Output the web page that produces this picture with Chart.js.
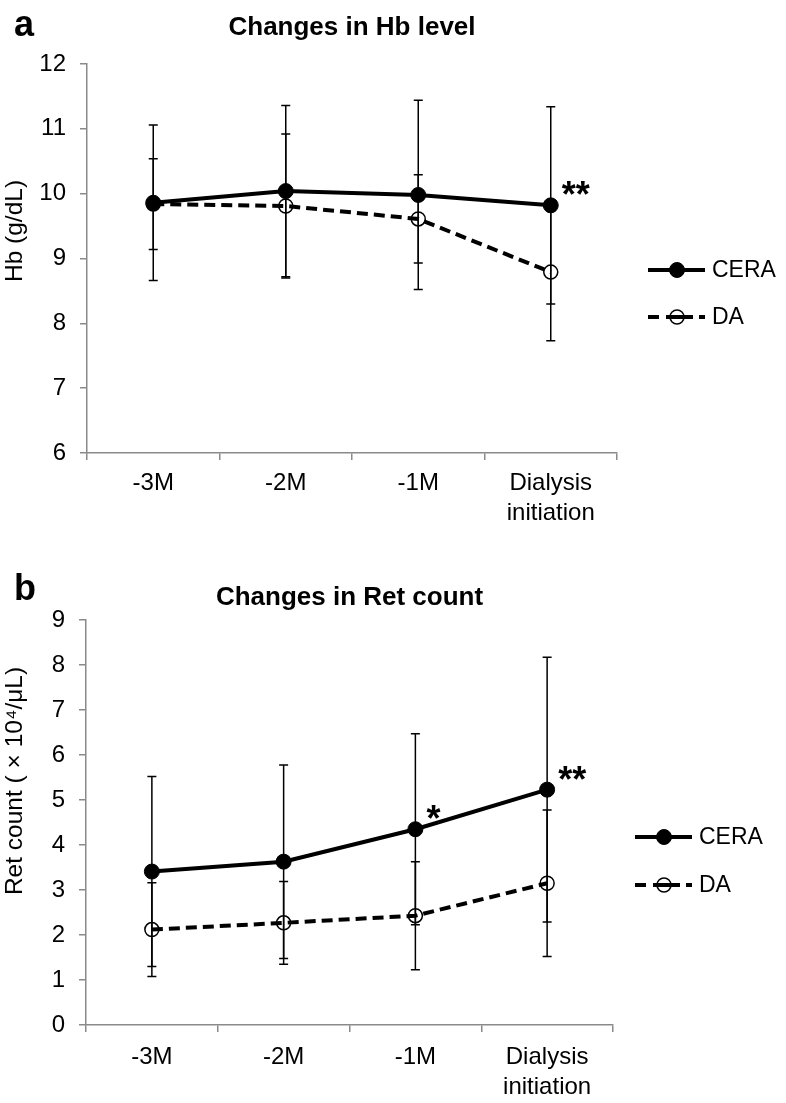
<!DOCTYPE html>
<html>
<head>
<meta charset="utf-8">
<script src="https://cdn.jsdelivr.net/npm/chart.js@4/dist/chart.umd.min.js"></script>
<style>
    body { margin: 0; background: #fff; }
    #wrap { position: relative; width: 786px; height: 1103px; }
    canvas { position: absolute; left: 0; }
</style>
</head>
<body>
<div id="wrap">
    <canvas id="hbChart" width="786" height="545" style="top:0"></canvas>
    <canvas id="retChart" width="786" height="558" style="top:545px"></canvas>
</div>
<script>
// 資料
const timePoints = ['-3M', '-2M', '-1M', ['Dialysis', 'initiation']];

const hbCera = [9.86, 10.04, 9.98, 9.82];
const hbCeraSd = [1.20, 1.32, 1.46, 1.52];
const hbDa = [9.84, 9.81, 9.61, 8.79];
const hbDaSd = [0.70, 1.11, 0.68, 1.06];
const hbSig = ['', '', '', '**'];

const retCera = [3.41, 3.63, 4.35, 5.23];
const retCeraSd = [2.11, 2.15, 2.12, 2.94];
const retDa = [2.12, 2.27, 2.43, 3.15];
const retDaSd = [1.04, 0.92, 1.20, 1.63];
const retSig = ['', '', '*', '**'];

const FONT = '"Liberation Sans", Arial, sans-serif';
const AXIS_GRAY = '#8a8a8a';

// 誤差線
const errorBars = {
    id: 'errorBars',
    afterDatasetsDraw(chart) {
        const ctx = chart.ctx;
        const y = chart.scales.y;
        ctx.save();
        ctx.strokeStyle = '#000';
        ctx.lineWidth = 1.5;
        chart.data.datasets.forEach((ds, di) => {
            const meta = chart.getDatasetMeta(di);
            meta.data.forEach((pt, i) => {
                const hi = y.getPixelForValue(ds.data[i] + ds.sd[i]);
                const lo = y.getPixelForValue(ds.data[i] - ds.sd[i]);
                ctx.beginPath();
                ctx.moveTo(pt.x, hi); ctx.lineTo(pt.x, lo);
                ctx.moveTo(pt.x - 4.5, hi); ctx.lineTo(pt.x + 4.5, hi);
                ctx.moveTo(pt.x - 4.5, lo); ctx.lineTo(pt.x + 4.5, lo);
                ctx.stroke();
            });
        });
        ctx.restore();
    }
};

// 標題、圖例、星號
const panelText = {
    id: 'panelText',
    afterDraw(chart, args, opts) {
        const ctx = chart.ctx;
        const area = chart.chartArea;
        ctx.save();
        ctx.fillStyle = '#000';

        ctx.font = 'bold 36px ' + FONT;
        ctx.textAlign = 'left';
        ctx.textBaseline = 'alphabetic';
        ctx.fillText(opts.letter, 14, opts.letterY);

        ctx.font = 'bold 26px ' + FONT;
        ctx.textAlign = 'center';
        ctx.textBaseline = 'middle';
        ctx.fillText(opts.title, (area.left + area.right) / 2, opts.titleY);

        ctx.save();
        ctx.font = '24.5px ' + FONT;
        ctx.translate(15, opts.yTitleY);
        ctx.rotate(-Math.PI / 2);
        ctx.fillText(opts.yTitle, 0, 0);
        ctx.restore();

        // 圖例
        chart.data.datasets.forEach((ds, di) => {
            const lx = opts.legendX;
            const ly = opts.legendY + di * opts.legendGap;
            ctx.save();
            ctx.strokeStyle = ds.borderColor;
            ctx.lineWidth = ds.borderWidth;
            ctx.setLineDash(ds.borderDash || []);
            ctx.beginPath();
            ctx.moveTo(lx, ly); ctx.lineTo(lx + 57, ly);
            ctx.stroke();
            ctx.setLineDash([]);
            if (ds.borderDash) {
                ctx.fillStyle = '#fff';
                ctx.fillRect(lx + 12, ly - 4, 28, 8);
                ctx.beginPath();
                ctx.moveTo(lx + 18, ly); ctx.lineTo(lx + 40, ly);
                ctx.stroke();
            }
            ctx.beginPath();
            ctx.arc(lx + 29, ly, ds.pointRadius, 0, Math.PI * 2);
            ctx.fillStyle = ds.pointBackgroundColor;
            ctx.fill();
            ctx.lineWidth = ds.pointBorderWidth;
            ctx.stroke();
            ctx.restore();
            ctx.font = '23px ' + FONT;
            ctx.textAlign = 'left';
            ctx.textBaseline = 'middle';
            ctx.fillText(ds.label, lx + 64, ly + 1);
        });

        // 顯著性
        const meta = chart.getDatasetMeta(0);
        ctx.font = 'bold 36px ' + FONT;
        ctx.textAlign = 'left';
        ctx.textBaseline = 'alphabetic';
        opts.sig.forEach((s, i) => {
            if (!s) return;
            const pt = meta.data[i];
            ctx.fillText(s, pt.x + 11, pt.y + 2);
        });
        ctx.restore();
    }
};

function makeChart(id, cera, ceraSd, da, daSd, yMin, yMax, pad, yWidth, xHeight, xPad, text) {
    return new Chart(document.getElementById(id), {
        type: 'line',
        data: {
            labels: timePoints,
            datasets: [{
                label: 'CERA',
                data: cera,
                sd: ceraSd,
                borderColor: '#000',
                borderWidth: 4,
                pointRadius: 7.5,
                pointBackgroundColor: '#000',
                pointBorderColor: '#000',
                pointBorderWidth: 1
            }, {
                label: 'DA',
                data: da,
                sd: daSd,
                borderColor: '#000',
                borderWidth: 4,
                borderDash: [11, 6],
                pointRadius: 7,
                pointBackgroundColor: 'rgba(255,255,255,0)',
                pointBorderColor: '#000',
                pointBorderWidth: 1.5
            }]
        },
        options: {
            responsive: false,
            animation: false,
            layout: { padding: pad },
            plugins: {
                legend: { display: false },
                tooltip: { enabled: false },
                panelText: text
            },
            scales: {
                x: {
                    offset: true,
                    grid: { drawOnChartArea: false, tickLength: 7, color: AXIS_GRAY, lineWidth: 1.5, offset: true },
                    border: { color: AXIS_GRAY, width: 1.5 },
                    ticks: { color: '#000', font: { family: FONT, size: 24, lineHeight: 1.25 }, padding: xPad, maxRotation: 0, autoSkip: false },
                    afterFit: s => { s.height = xHeight; }
                },
                y: {
                    min: yMin,
                    max: yMax,
                    grid: { drawOnChartArea: false, tickLength: 7, color: AXIS_GRAY, lineWidth: 1.5 },
                    border: { color: AXIS_GRAY, width: 1.5 },
                    ticks: { stepSize: 1, color: '#000', font: { family: FONT, size: 24 }, padding: 14 },
                    afterFit: s => { s.width = yWidth; }
                }
            }
        },
        plugins: [errorBars, panelText]
    });
}

makeChart('hbChart', hbCera, hbCeraSd, hbDa, hbDaSd, 6, 12,
    { left: 0, right: 169, top: 64, bottom: 0 }, 87, 92, 8,
    {
        letter: 'a', letterY: 36,
        title: 'Changes in Hb level', titleY: 28,
        yTitle: 'Hb (g/dL)', yTitleY: 231,
        legendX: 648, legendY: 270, legendGap: 47,
        sig: hbSig
    });

makeChart('retChart', retCera, retCeraSd, retDa, retDaSd, 0, 9,
    { left: 0, right: 173, top: 75, bottom: 0 }, 86, 78, 10,
    {
        letter: 'b', letterY: 55,
        title: 'Changes in Ret count', titleY: 53,
        yTitle: 'Ret count ( × 10⁴/μL)', yTitleY: 236,
        legendX: 635, legendY: 292, legendGap: 48,
        sig: retSig
    });
</script>
</body>
</html>
